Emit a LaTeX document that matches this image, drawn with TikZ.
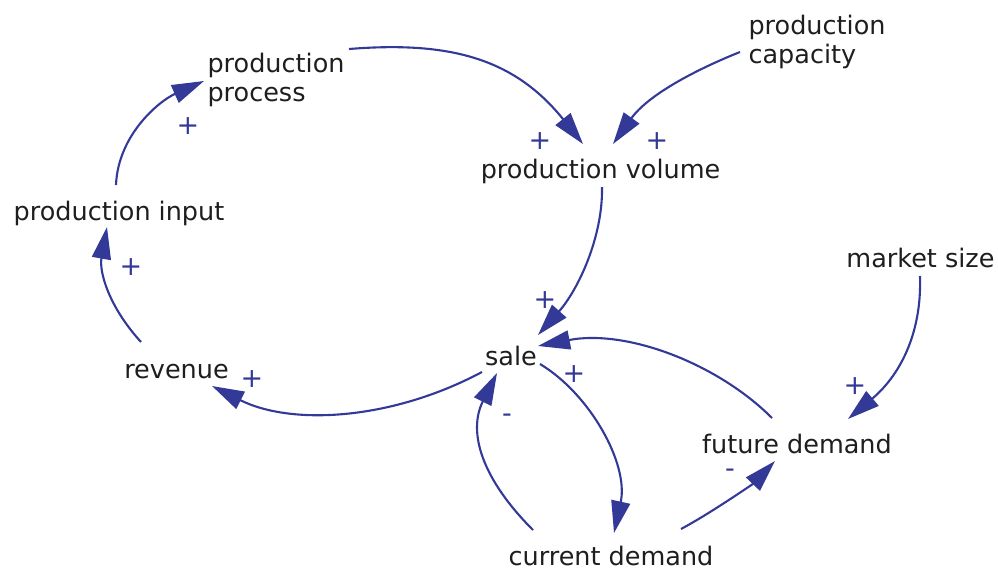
\documentclass[tikz,border=0pt]{standalone}
\usepackage{fontspec}
\setmainfont{DejaVu Sans}
\usetikzlibrary{arrows.meta,calc}
\definecolor{cldblue}{RGB}{50,57,150}
\definecolor{cldtext}{RGB}{30,30,30}
\newcommand{\cldfont}{\fontsize{25.5}{29}\selectfont}
\begin{document}
\begin{tikzpicture}[x=1pt,y=-1pt,
  var/.style={font=\cldfont, text=cldtext, inner sep=0pt, anchor=base, align=left},
  link/.style={draw=cldblue, line width=2.1pt, -{Triangle[length=32pt,width=19pt]}},
  sign/.style={font=\fontsize{27}{27}\selectfont, text=cldblue, inner sep=0pt, anchor=center}]
\useasboundingbox (0,0) rectangle (998,568);
% variables (base = baseline of the last line)
\node[var] (pp)   at (276,101)  {production\\process};
\node[var] (pc)   at (817,63)   {production\\capacity};
\node[var] (pv)   at (600.5,178){production volume};
\node[var] (pi)   at (119,220)  {production input};
\node[var] (ms)   at (920.5,267){market size};
\node[var] (rev)  at (176.5,378){revenue};
\node[var] (sale) at (511,365)  {sale};
\node[var] (fd)   at (797,453)  {future demand};
\node[var] (cd)   at (611,565)  {current demand};
% links
\draw[link] ([shift={(73,-52)}]pp.base) .. controls +(100,-8) and +(-69,-86) .. ([shift={(-17.5,-34)}]pv.base);
\draw[link] ([shift={(-77,-11)}]pc.base) .. controls +(-45,18) and +(35,-49) .. ([shift={(12.5,-34)}]pv.base);
\draw[link] ([shift={(-3,-35)}]pi.base) .. controls +(2,-50) and +(-45,20) .. ([shift={(-72,-20)}]pp.base);
\draw[link] ([shift={(-35.5,-36)}]rev.base) .. controls +(-32,-35) and +(-8,45) .. ([shift={(-12,7)}]pi.base);
\draw[link] ([shift={(-29,7)}]sale.base) .. controls +(-90,48) and +(80,40) .. ([shift={(35.5,8)}]rev.base);
\draw[link] ([shift={(1.5,9)}]pv.base) .. controls +(1,50) and +(40,-45) .. ([shift={(27,-30)}]sale.base);
\draw[link] ([shift={(-25,-35)}]fd.base) .. controls +(-55,-55) and +(88,-17) .. ([shift={(27,-19)}]sale.base);
\draw[link] ([shift={(-78,-35)}]cd.base) .. controls +(-50,-50) and +(-30,60) .. ([shift={(-14,8)}]sale.base);
\draw[link] ([shift={(29,-1)}]sale.base) .. controls +(50,30) and +(15,-69) .. ([shift={(3,-32)}]cd.base);
\draw[link] ([shift={(70,-36)}]cd.base) .. controls +(30,-16) and +(-21,22) .. ([shift={(-22,8)}]fd.base);
\draw[link] ([shift={(-0.5,9)}]ms.base) .. controls +(2,60) and +(50,-42) .. ([shift={(51,-34)}]fd.base);
% polarities
\node[sign] (s1) at (188,126) {+};
\node[sign] (s2) at (131,267) {+};
\node[sign] (s3) at (540,141) {+};
\node[sign] (s4) at (657,141) {+};
\node[sign] (s5) at (252,379) {+};
\node[sign] (s6) at (545,300) {+};
\node[sign] (s7) at (574,374) {+};
\node[sign] (s8) at (855,386) {+};
\node[sign] (s9) at (507,418) {-};
\node[sign] (s10) at (730,473) {-};
\end{tikzpicture}
\end{document}
